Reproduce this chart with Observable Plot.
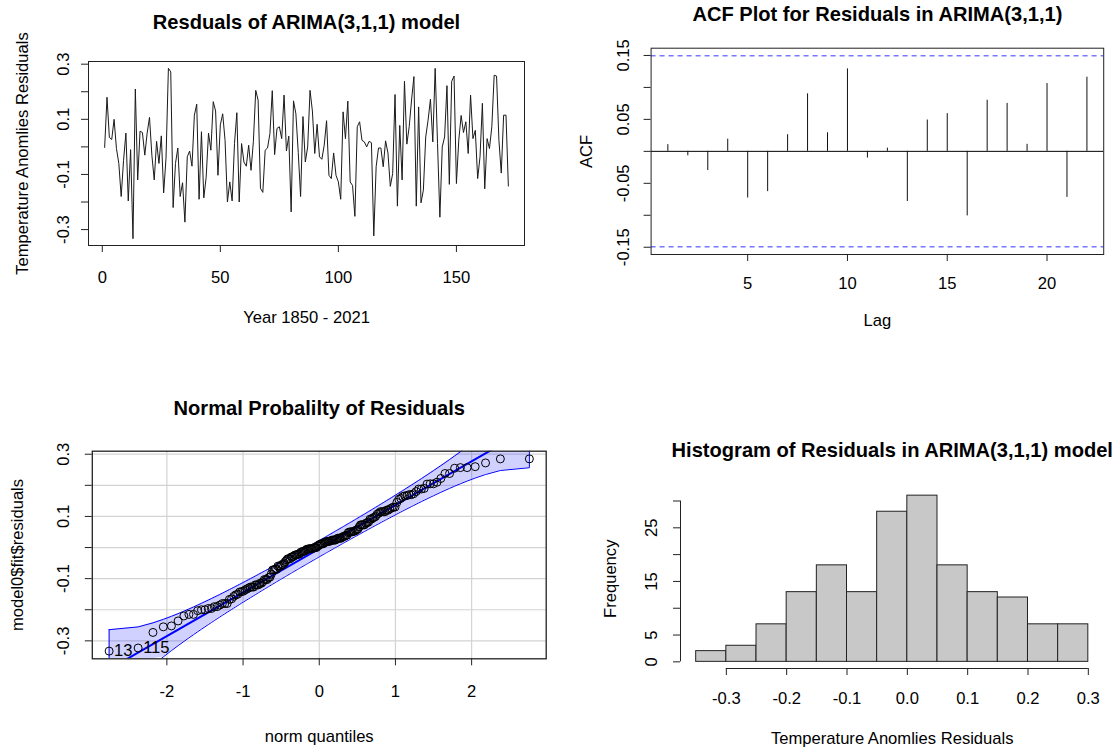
<!DOCTYPE html>
<html>
<head>
<meta charset="utf-8">
<script src="https://cdn.jsdelivr.net/npm/d3@7"></script>
<script src="https://cdn.jsdelivr.net/npm/@observablehq/plot@0.6"></script>
<style>
html, body { margin: 0; padding: 0; background: #fff; overflow: hidden; }
#page { position: relative; width: 1113px; height: 748px; background: #fff; }
#page svg { position: absolute; }
</style>
</head>
<body>
<div id="page"></div>
<script>
// ---------- DATA ----------
const residuals = [
  -0.002, 0.18, 0.034, 0.027, 0.10, -0.006, -0.06, -0.18, -0.05, 0.05,
  -0.196, -0.01, -0.333, 0.21, -0.12, 0.057, 0.052, -0.03, 0.05, 0.107,
  -0.03, -0.12, 0.02, -0.06, 0.04, -0.167, -0.04, 0.285, 0.272, -0.22,
  -0.06, -0.004, -0.18, -0.13, -0.273, -0.036, -0.015, -0.07, 0.115, 0.155,
  -0.19, 0.055, -0.185, -0.11, 0.05, -0.012, 0.164, 0.13, -0.103, 0.08,
  0.12, 0.024, -0.2, -0.127, -0.196, 0.012, 0.124, -0.2, 0.012, -0.055,
  -0.07, 0.006, -0.085, 0.02, 0.205, 0.17, -0.15, -0.165, -0.012, -0.004,
  0.048, 0.204, -0.028, 0.067, 0.073, 0.03, 0.188, -0.015, 0.039, -0.236,
  0.167, 0.12, -0.02, -0.18, 0.11, -0.055, 0.0, 0.205, 0.13, -0.024,
  0.082, -0.036, -0.045, 0.006, 0.095, -0.103, -0.115, -0.022, -0.103, -0.127,
  -0.19, 0.127, 0.03, 0.166, -0.127, -0.14, -0.252, 0.073, 0.091, 0.024,
  0.018, 0.0, 0.02, 0.015, -0.323, -0.072, -0.004, -0.004, -0.072, 0.022,
  -0.022, -0.143, -0.097, 0.19, -0.215, 0.078, -0.12, 0.238, 0.01, 0.073,
  0.17, 0.255, -0.215, 0.145, -0.203, -0.157, 0.036, 0.097, 0.173, 0.018,
  0.285, 0.012, -0.255, 0.0, 0.036, 0.222, -0.136, 0.238, 0.257, -0.133,
  0.024, 0.114, 0.052, 0.091, -0.024, 0.188, 0.03, 0.06, -0.115, -0.036,
  0.158, -0.152, 0.03, -0.006, 0.073, 0.26, 0.257, 0.024, -0.095, 0.115,
  0.115, -0.142
];
const years = residuals.map((d, i) => i + 1);

const acfLags = [1,2,3,4,5,6,7,8,9,10,11,12,13,14,15,16,17,18,19,20,21,22];
const acfValues = [0.0105, -0.007, -0.03, 0.019, -0.073, -0.063, 0.026, 0.09, 0.029, 0.129,
  -0.0105, 0.005, -0.0785, 0.049, 0.059, -0.101, 0.08, 0.075, 0.011, 0.106, -0.072, 0.116];
const acfBand = [0.1494, -0.1494];

const histBreaks = [-0.35, -0.3, -0.25, -0.2, -0.15, -0.1, -0.05, 0, 0.05, 0.1, 0.15, 0.2, 0.25, 0.3];
const histCounts = [2, 3, 7, 13, 18, 13, 28, 31, 18, 13, 12, 7, 7];

// tick values and tick labels
const tsTicksX = [0, 50, 100, 150];
const tsTicksY = [-0.3, -0.2, -0.1, 0, 0.1, 0.2, 0.3];
const tsLabelsY = ["0.3", "0.1", "-0.1", "-0.3"];
const acfTicksX = [5, 10, 15, 20];
const acfTicksY = [-0.15, -0.10, -0.05, 0, 0.05, 0.10, 0.15];
const acfLabelsY = ["0.15", "0.05", "-0.05", "-0.15"];
const qqTicksX = [-2, -1, 0, 1, 2];
const qqLabelsX = ["-2", "-1", "0", "1", "2"];
const qqTicksY = [-0.3, -0.2, -0.1, 0, 0.1, 0.2, 0.3];
const qqLabelsY = ["0.3", "0.1", "-0.1", "-0.3"];
const histTicksX = [-0.3, -0.2, -0.1, 0, 0.1, 0.2, 0.3];
const histLabelsX = ["-0.3", "-0.2", "-0.1", "0.0", "0.1", "0.2", "0.3"];
const histTicksY = [0, 5, 10, 15, 20, 25, 30];
const histLabelsY = ["0", "5", "15", "25"];

// ---------- helpers ----------
const FONT = '"Liberation Sans", Arial, Helvetica, sans-serif';
const FS = 16.6, TFS = 20.1;
const page = document.getElementById("page");
const ext = (lo, hi) => { const r = (hi - lo) * 0.04; return [lo - r, hi + r]; };
const style = {fontFamily: FONT, fontSize: FS + "px", color: "#000", background: "transparent", overflow: "visible"};
function mount(svg, left, top) { svg.style.left = left + "px"; svg.style.top = top + "px"; page.appendChild(svg); }

function decor({title, titleDy, xLabel, xLabelDy, yLabel, yLabelDx}) {
  return [
    Plot.text([title], {text: d => d, frameAnchor: "top", dy: titleDy, fontWeight: "bold", fontSize: TFS, lineAnchor: "middle", fill: "#000"}),
    Plot.text([xLabel], {text: d => d, frameAnchor: "bottom", dy: xLabelDy, fontSize: FS, lineAnchor: "middle", fill: "#000"}),
    Plot.text([yLabel], {text: d => d, frameAnchor: "left", dx: yLabelDx, rotate: -90, fontSize: FS, lineAnchor: "middle", textAnchor: "middle", fill: "#000"})
  ];
}
function tickLabelsX(values, labels, dy) {
  return Plot.text(values, {x: d => d, text: (d, i) => labels[i], frameAnchor: "bottom", dy, lineAnchor: "middle", fontSize: FS, fill: "#000"});
}
function tickLabelsY(labels, dx) {
  return Plot.text(labels, {y: d => +d, text: d => d, frameAnchor: "left", dx, rotate: -90, lineAnchor: "middle", textAnchor: "middle", fontSize: FS, fill: "#000"});
}

// qnorm (Acklam) and dnorm for the normal-probability plot
function qnorm(p) {
  const a = [-3.969683028665376e+01, 2.209460984245205e+02, -2.759285104469687e+02, 1.383577518672690e+02, -3.066479806614716e+01, 2.506628277459239e+00];
  const b = [-5.447609879822406e+01, 1.615858368580409e+02, -1.556989798598866e+02, 6.680131188771972e+01, -1.328068155288572e+01];
  const c = [-7.784894002430293e-03, -3.223964580411365e-01, -2.400758277161838e+00, -2.549732539343734e+00, 4.374664141464968e+00, 2.938163982698783e+00];
  const d = [7.784695709041462e-03, 3.224671290700398e-01, 2.445134137142996e+00, 3.754408661907416e+00];
  const pl = 0.02425, ph = 1 - pl;
  let q, r;
  if (p < pl) { q = Math.sqrt(-2 * Math.log(p)); return (((((c[0]*q+c[1])*q+c[2])*q+c[3])*q+c[4])*q+c[5]) / ((((d[0]*q+d[1])*q+d[2])*q+d[3])*q+1); }
  if (p > ph) { q = Math.sqrt(-2 * Math.log(1 - p)); return -(((((c[0]*q+c[1])*q+c[2])*q+c[3])*q+c[4])*q+c[5]) / ((((d[0]*q+d[1])*q+d[2])*q+d[3])*q+1); }
  q = p - 0.5; r = q * q;
  return (((((a[0]*r+a[1])*r+a[2])*r+a[3])*r+a[4])*r+a[5])*q / (((((b[0]*r+b[1])*r+b[2])*r+b[3])*r+b[4])*r+1);
}
const dnorm = z => Math.exp(-z * z / 2) / Math.sqrt(2 * Math.PI);

// ---------- Panel 1: residual time series ----------
{
  const xd = ext(1, residuals.length), yd = ext(d3.min(residuals), d3.max(residuals));
  const svg = Plot.plot({
    width: 556, height: 374, marginLeft: 88, marginRight: 32, marginTop: 61, marginBottom: 129,
    style, x: {domain: xd}, y: {domain: yd},
    marks: [
      Plot.line(residuals, {x: (d, i) => years[i], y: d => d, stroke: "#1a1a1a", strokeWidth: 1}),
      Plot.frame({stroke: "#222"}),
      Plot.axisX({ticks: tsTicksX, tickSize: 7, fill: "none", label: null, stroke: "#222"}),
      Plot.axisY({ticks: tsTicksY, tickSize: 7, fill: "none", label: null, stroke: "#222"}),
      tickLabelsX(tsTicksX, tsTicksX.map(String), 32),
      tickLabelsY(tsLabelsY, -25),
      ...decor({title: "Resduals of ARIMA(3,1,1) model", titleDy: -39, xLabel: "Year 1850 - 2021", xLabelDy: 72, yLabel: "Temperature Anomlies Residuals", yLabelDx: -66})
    ]
  });
  mount(svg, 0, 0);
}

// ---------- Panel 2: ACF ----------
{
  const xd = ext(acfLags[0], acfLags[acfLags.length - 1]);
  const yd = ext(d3.min([...acfValues, ...acfBand]), d3.max([...acfValues, ...acfBand]));
  const svg = Plot.plot({
    width: 557, height: 374, marginLeft: 94.6, marginRight: 9.8, marginTop: 47.7, marginBottom: 120,
    style, x: {domain: xd}, y: {domain: yd},
    marks: [
      Plot.ruleY([0], {stroke: "#000", strokeWidth: 1}),
      Plot.ruleX(acfValues, {x: (d, i) => acfLags[i], y1: 0, y2: d => d, stroke: "#111", strokeWidth: 1}),
      Plot.ruleY(acfBand, {stroke: "#3333ff", strokeWidth: 1, strokeDasharray: "5,4"}),
      Plot.frame({stroke: "#222"}),
      Plot.axisX({ticks: acfTicksX, tickSize: 7, fill: "none", label: null, stroke: "#222"}),
      Plot.axisY({ticks: acfTicksY, tickSize: 7, fill: "none", label: null, stroke: "#222"}),
      tickLabelsX(acfTicksX, acfTicksX.map(String), 29),
      tickLabelsY(acfLabelsY, -27),
      ...decor({title: "ACF Plot for Residuals in ARIMA(3,1,1)", titleDy: -34, xLabel: "Lag", xLabelDy: 66, yLabel: "ACF", yLabelDx: -64})
    ]
  });
  mount(svg, 556, 0);
}

// ---------- Panel 3: normal probability plot ----------
{
  const n = residuals.length;
  const sorted = residuals.map((v, i) => ({v, idx: i + 1})).sort((a, b) => a.v - b.v);
  const sv = sorted.map(d => d.v);
  const P = sorted.map((_, i) => (i + 1 - 0.5) / n);
  const q1 = d3.quantileSorted(sv, 0.25), q3 = d3.quantileSorted(sv, 0.75);
  const slope = (q3 - q1) / (qnorm(0.75) - qnorm(0.25));
  const inter = q1 - slope * qnorm(0.25);
  const zz = qnorm(0.975);
  const qq = sorted.map((d, i) => {
    const z = qnorm(P[i]);
    const se = slope / dnorm(z) * Math.sqrt(P[i] * (1 - P[i]) / n);
    const fit = inter + slope * z;
    return {z, v: d.v, idx: d.idx, lower: fit - zz * se, upper: fit + zz * se};
  });
  const xd = ext(qq[0].z, qq[n - 1].z), yd = ext(sv[0], sv[n - 1]);
  const clamp = y => Math.max(yd[0], Math.min(yd[1], y));
  const outline = [
    ...qq.map(d => ({z: d.z, y: d.upper})),
    ...qq.slice().reverse().map(d => ({z: d.z, y: d.lower})),
    {z: qq[0].z, y: qq[0].upper}
  ];
  const refLine = xd.map(z => ({z, y: inter + slope * z}));
  const ids = qq.slice().sort((a, b) => Math.abs(b.v) - Math.abs(a.v)).slice(0, 2);
  const svg = Plot.plot({
    width: 556, height: 374, marginLeft: 91.8, marginRight: 10.3, marginTop: 76.7, marginBottom: 89.7,
    style, x: {domain: xd}, y: {domain: yd},
    marks: [
      Plot.gridX({ticks: qqTicksX, stroke: "#d3d3d3", strokeOpacity: 1, strokeWidth: 1.2}),
      Plot.gridY({ticks: qqTicksY, stroke: "#d3d3d3", strokeOpacity: 1, strokeWidth: 1.2}),
      Plot.areaY(qq, {x: "z", y1: d => clamp(d.lower), y2: d => clamp(d.upper), fill: "#0000ff", fillOpacity: 0.18, clip: true}),
      Plot.line(outline, {x: "z", y: "y", stroke: "#0000ff", strokeWidth: 1, clip: true}),
      Plot.line(refLine, {x: "z", y: "y", stroke: "#0000ff", strokeWidth: 2, clip: true}),
      Plot.dot(qq, {x: "z", y: "v", r: 4, stroke: "#000", fill: "none", strokeWidth: 1}),
      Plot.text(ids, {x: "z", y: "v", text: d => String(d.idx), textAnchor: "start", dx: 5, fontSize: FS, fill: "#000"}),
      Plot.frame({stroke: "#222", strokeWidth: 1.3}),
      Plot.axisX({ticks: qqTicksX, tickSize: 7, fill: "none", label: null, stroke: "#222"}),
      Plot.axisY({ticks: qqTicksY, tickSize: 7, fill: "none", label: null, stroke: "#222"}),
      tickLabelsX(qqTicksX, qqLabelsX, 33),
      tickLabelsY(qqLabelsY, -29),
      ...decor({title: "Normal Probalilty of Residuals", titleDy: -43, xLabel: "norm quantiles", xLabelDy: 78, yLabel: "model0$fit$residuals", yLabelDx: -75})
    ]
  });
  mount(svg, 0, 374);
}

// ---------- Panel 4: histogram ----------
{
  const xd = ext(histBreaks[0], histBreaks[histBreaks.length - 1]);
  const yd = ext(0, d3.max(histCounts));
  const svg = Plot.plot({
    width: 557, height: 374, marginLeft: 124, marginRight: 9.5, marginTop: 114.5, marginBottom: 80,
    style, x: {domain: xd}, y: {domain: yd},
    marks: [
      Plot.rectY(histCounts, {x1: (d, i) => histBreaks[i], x2: (d, i) => histBreaks[i + 1], y1: 0, y2: d => d, fill: "#c8c8c8", stroke: "#222", strokeWidth: 1}),
      Plot.ruleY([yd[0]], {x1: histTicksX[0], x2: histTicksX[histTicksX.length - 1], stroke: "#222"}),
      Plot.ruleX([xd[0]], {y1: histTicksY[0], y2: histTicksY[histTicksY.length - 1], stroke: "#222"}),
      Plot.axisX({ticks: histTicksX, tickSize: 7, fill: "none", label: null, stroke: "#222"}),
      Plot.axisY({ticks: histTicksY, tickSize: 7, fill: "none", label: null, stroke: "#222"}),
      tickLabelsX(histTicksX, histLabelsX, 30),
      tickLabelsY(histLabelsY, -28.6),
      ...decor({title: "Histogram of Residuals in ARIMA(3,1,1) model", titleDy: -38.5, xLabel: "Temperature Anomlies Residuals", xLabelDy: 70, yLabel: "Frequency", yLabelDx: -69.4})
    ]
  });
  mount(svg, 556, 374);
}
</script>
</body>
</html>
